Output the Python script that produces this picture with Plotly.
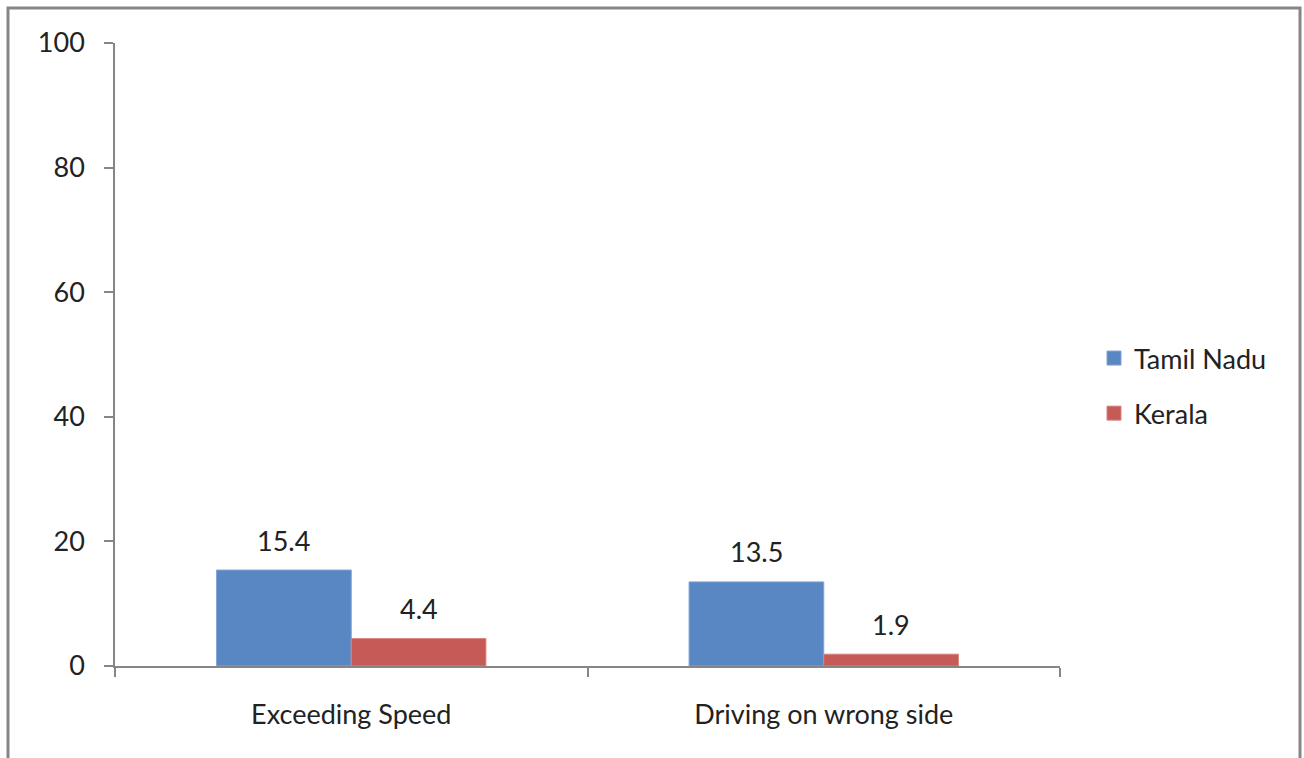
import plotly.graph_objects as go

categories = ["Exceeding Speed", "Driving on wrong side"]
tamil_nadu = [15.4, 13.5]
kerala = [4.4, 1.9]
y_ticks = [0, 20, 40, 60, 80, 100]

FONT = "Lato, 'Open Sans', sans-serif"
AXIS = "#868686"
TXT = "#222222"
FS = 27
L, R, T, B = 115, 244, 43, 92
W, H = 1304, 758
pw, ph = W - L - R, H - T - B

series = [("Tamil Nadu", tamil_nadu, "#5887C3", "#7FA3D3"),
          ("Kerala", kerala, "#C55A56", "#D98381")]

fig = go.Figure()
for i, (name, vals, col, edge) in enumerate(series):
    fig.add_trace(go.Bar(name=name, x=categories, y=vals, showlegend=False,
                         marker=dict(color=col, line=dict(color=edge, width=1))))
for i, (name, vals, col, edge) in enumerate(series):
    fig.add_trace(go.Scatter(name=name, x=[None], y=[None], mode="markers",
                             legendgroup=f"g{i}",
                             marker=dict(symbol="square", size=14, color=col,
                                         line=dict(color=edge, width=1))))

half = pw / len(categories) * (1 - 0.43) / 4
for (name, vals, col, edge), sh in zip(series, (-half, half)):
    for c, v in zip(categories, vals):
        fig.add_annotation(x=c, y=v, text=f"{v}", showarrow=False, xshift=sh, yshift=30,
                           font=dict(family=FONT, size=FS, color=TXT))

fig.add_shape(type="rect", xref="paper", yref="paper",
              x0=(8 - L) / pw, x1=(1300 - L) / pw,
              y0=-0.4, y1=(666 - 8) / ph,
              line=dict(color=AXIS, width=3), layer="below")

fig.update_layout(
    width=W, height=H, autosize=False,
    margin=dict(l=L, r=R, t=T, b=B),
    paper_bgcolor="white", plot_bgcolor="white",
    barmode="group", bargap=0.43, bargroupgap=0,
    font=dict(family=FONT, size=FS, color=TXT),
    showlegend=True,
    legend=dict(x=(1094 - L) / pw, y=(666 - 334) / ph, xanchor="left", yanchor="top",
                traceorder="grouped", tracegroupgap=17, itemwidth=30,
                font=dict(family=FONT, size=FS, color=TXT),
                bgcolor="rgba(0,0,0,0)"),
)
fig.update_xaxes(showline=True, linecolor=AXIS, linewidth=1.5, ticks="outside",
                 tickson="boundaries", ticklen=9, tickcolor=AXIS, tickwidth=1.5,
                 showgrid=False, ticklabelstandoff=24)
fig.update_yaxes(range=[0, 100], tickvals=y_ticks, showline=True, linecolor=AXIS,
                 linewidth=1.5, ticks="outside", ticklen=9, tickcolor=AXIS, tickwidth=1.5,
                 showgrid=False, zeroline=False, ticklabelstandoff=14)

fig.write_html("out.html")
